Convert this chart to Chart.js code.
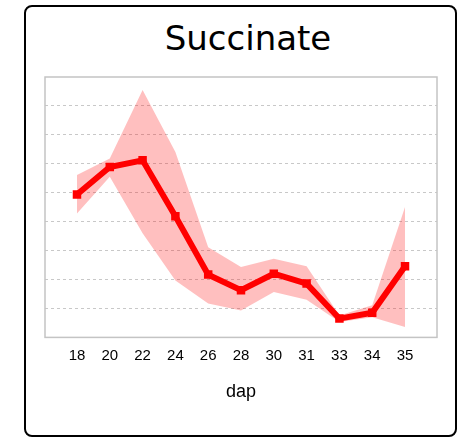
<!DOCTYPE html>
<html>
<head>
<meta charset="utf-8">
<script src="https://cdn.jsdelivr.net/npm/chart.js@4"></script>
<style>
  html, body { margin: 0; padding: 0; background: #fff; }
  body { width: 461px; height: 439px; position: relative; overflow: hidden; }
  .frame {
    position: absolute; left: 24px; top: 5px; width: 433px; height: 432px;
    box-sizing: border-box; border: 2px solid #000; border-radius: 8px;
  }
  .title {
    position: absolute; left: 148px; width: 200px; top: 21px;
    text-align: center; font: 34px/34px 'DejaVu Sans', sans-serif; color: #000;
  }
  #chart { position: absolute; left: 0; top: 0; }
</style>
</head>
<body>
<div class="frame"></div>
<div class="title">Succinate</div>
<canvas id="chart" width="461" height="439"></canvas>
<script>
const dapLabels = ['18', '20', '22', '24', '26', '28', '30', '31', '33', '34', '35'];
const meanValues = [4.94, 5.89, 6.12, 4.19, 2.17, 1.63, 2.20, 1.86, 0.65, 0.85, 2.46];
const upperValues = [5.61, 6.18, 8.55, 6.41, 3.12, 2.43, 2.72, 2.46, 0.76, 1.11, 4.51];
const lowerValues = [4.28, 5.55, 3.60, 1.97, 1.17, 0.93, 1.57, 1.30, 0.53, 0.70, 0.36];

const toPoints = (arr) => arr.map((v, i) => ({ x: i, y: v }));

const labelFamily = "'Liberation Sans Narrow', 'Arial Narrow', 'Liberation Sans', sans-serif";

// light grey box round the plot area
const plotBorder = {
  id: 'plotBorder',
  afterDraw(chart) {
    const { ctx, chartArea: a } = chart;
    ctx.save();
    ctx.strokeStyle = '#c4c4c4';
    ctx.lineWidth = 1.5;
    ctx.strokeRect(a.left, a.top, a.right - a.left, a.bottom - a.top);
    ctx.restore();
  },
};

new Chart(document.getElementById('chart'), {
  type: 'line',
  data: {
    datasets: [
      {
        label: 'mean',
        data: toPoints(meanValues),
        borderColor: '#ff0000',
        backgroundColor: '#ff0000',
        borderWidth: 6,
        pointStyle: 'rect',
        pointRadius: 6,
        pointBorderWidth: 0,
        tension: 0,
        fill: false,
      },
      {
        label: 'upper',
        data: toPoints(upperValues),
        borderWidth: 0,
        pointRadius: 0,
        backgroundColor: 'rgba(255, 0, 0, 0.25)',
        fill: '+1',
      },
      {
        label: 'lower',
        data: toPoints(lowerValues),
        borderWidth: 0,
        pointRadius: 0,
        fill: false,
      },
    ],
  },
  options: {
    responsive: false,
    animation: false,
    layout: { padding: { left: 45, right: 24, top: 77, bottom: 36 } },
    plugins: {
      legend: { display: false },
      tooltip: { enabled: false },
      title: { display: false },
    },
    scales: {
      x: {
        type: 'linear',
        min: -0.975,
        max: 10.975,
        afterBuildTicks: (axis) => {
          axis.ticks = dapLabels.map((_, i) => ({ value: i }));
        },
        grid: { display: false, drawTicks: false },
        border: { display: false },
        ticks: {
          padding: 9,
          color: '#000',
          font: { family: labelFamily, size: 15 },
          callback: (v) => dapLabels[v],
          maxRotation: 0,
          autoSkip: false,
        },
        title: {
          display: true,
          text: 'dap',
          color: '#000',
          font: { family: labelFamily, size: 18 },
          padding: { top: 8, bottom: 0 },
        },
      },
      y: {
        min: 0,
        max: 9,
        ticks: { display: false, stepSize: 1 },
        border: { display: false, dash: [3, 3] },
        grid: {
          drawTicks: false,
          color: (c) => (c.tick && (c.tick.value === 0 || c.tick.value === 9) ? 'rgba(0,0,0,0)' : '#c8c8c8'),
        },
      },
    },
  },
  plugins: [plotBorder],
});
</script>
</body>
</html>
